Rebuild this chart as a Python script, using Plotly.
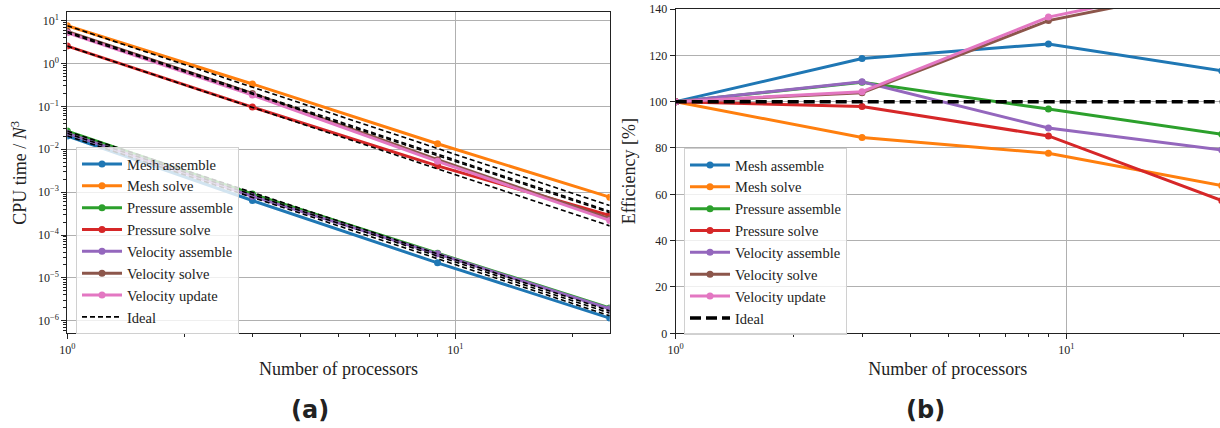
import plotly.graph_objects as go
import math

# ---------------- data ----------------
procs = [1, 3, 9, 25]
series_names = ["Mesh assemble", "Mesh solve", "Pressure assemble", "Pressure solve",
                "Velocity assemble", "Velocity solve", "Velocity update"]
colors = ["#1f77b4", "#ff7f0e", "#2ca02c", "#d62728", "#9467bd", "#8c564b", "#e377c2"]

# (a) CPU time / N^3
cpu_mesh_assemble = [0.0204, 6.37e-4, 2.24e-5, 1.152e-6]
cpu_mesh_solve = [7.6, 0.3331, 0.013417, 7.624e-4]
cpu_pressure_assemble = [0.0265, 9.054e-4, 3.755e-5, 1.974e-6]
cpu_pressure_solve = [2.55, 0.09647, 4.106e-3, 2.848e-4]
cpu_velocity_assemble = [0.0235, 8.014e-4, 3.638e-5, 1.901e-6]
cpu_velocity_solve = [5.6, 0.1998, 5.690e-3, 2.389e-4]
cpu_velocity_update = [5.2, 0.18465, 5.226e-3, 2.189e-4]

# ideal scaling lines for (a)
ideal_mesh_assemble = [0.0204, 7.556e-4, 2.798e-5, 1.306e-6]
ideal_mesh_solve = [7.6, 0.2815, 0.010425, 4.864e-4]
ideal_pressure_assemble = [0.0265, 9.815e-4, 3.635e-5, 1.696e-6]
ideal_pressure_solve = [2.55, 0.09444, 3.498e-3, 1.632e-4]
ideal_velocity_assemble = [0.0235, 8.704e-4, 3.224e-5, 1.504e-6]
ideal_velocity_solve = [5.6, 0.2074, 7.682e-3, 3.584e-4]
ideal_velocity_update = [5.2, 0.19259, 7.133e-3, 3.328e-4]

# (b) Efficiency [%]
eff_mesh_assemble = [100, 118.6, 124.9, 113.3]
eff_mesh_solve = [100, 84.5, 77.7, 63.8]
eff_pressure_assemble = [100, 108.4, 96.8, 85.9]
eff_pressure_solve = [100, 97.9, 85.2, 57.3]
eff_velocity_assemble = [100, 108.6, 88.6, 79.1]
eff_velocity_solve = [100, 103.8, 135.0, 150.0]
eff_velocity_update = [100, 104.3, 136.5, 152.0]
eff_ideal = [100, 100, 100, 100]

cpu_series = [cpu_mesh_assemble, cpu_mesh_solve, cpu_pressure_assemble, cpu_pressure_solve,
              cpu_velocity_assemble, cpu_velocity_solve, cpu_velocity_update]
ideal_series = [ideal_mesh_assemble, ideal_mesh_solve, ideal_pressure_assemble, ideal_pressure_solve,
                ideal_velocity_assemble, ideal_velocity_solve, ideal_velocity_update]
eff_series = [eff_mesh_assemble, eff_mesh_solve, eff_pressure_assemble, eff_pressure_solve,
              eff_velocity_assemble, eff_velocity_solve, eff_velocity_update]

left_yticks = [1e-6, 1e-5, 1e-4, 1e-3, 1e-2, 1e-1, 1e0, 1e1]
left_yticktext = ["10<sup>\u22126</sup>", "10<sup>\u22125</sup>", "10<sup>\u22124</sup>",
                  "10<sup>\u22123</sup>", "10<sup>\u22122</sup>", "10<sup>\u22121</sup>",
                  "10<sup>0</sup>", "10<sup>1</sup>"]
xticks = [1, 10]
xticktext = ["10<sup>0</sup>", "10<sup>1</sup>"]
right_yticks = [0, 20, 40, 60, 80, 100, 120, 140]

# ---------------- figure ----------------
W, H = 1220, 428
SERIF = "Liberation Serif"
fig = go.Figure()

for name, col, ys in zip(series_names, colors, cpu_series):
    fig.add_trace(go.Scatter(x=procs, y=ys, mode="lines+markers", name=name,
                             line=dict(color=col, width=3), marker=dict(color=col, size=7),
                             xaxis="x", yaxis="y", legend="legend"))
for i, ys in enumerate(ideal_series):
    fig.add_trace(go.Scatter(x=procs, y=ys, mode="lines", name="Ideal",
                             line=dict(color="black", width=1.6, dash="5px,3px"),
                             legendgroup="idealA", showlegend=(i == 0),
                             xaxis="x", yaxis="y", legend="legend"))

for name, col, ys in zip(series_names, colors, eff_series):
    fig.add_trace(go.Scatter(x=procs, y=ys, mode="lines+markers", name=name,
                             line=dict(color=col, width=3), marker=dict(color=col, size=7),
                             xaxis="x2", yaxis="y2", legend="legend2"))
fig.add_trace(go.Scatter(x=procs, y=eff_ideal, mode="lines", name="Ideal",
                         line=dict(color="black", width=3.5, dash="11px,5px"),
                         xaxis="x2", yaxis="y2", legend="legend2"))

ybot = (H - 333.3) / H
gridc = "#b0b0b0"
tickfont = dict(family=SERIF, size=12, color="#222")
titlefont = dict(family=SERIF, size=18, color="#222")

minor_x = dict(ticks="outside", ticklen=3, tickwidth=0.8, tickcolor="#222",
               tickvals=[2, 3, 4, 5, 6, 7, 8, 9, 20], showgrid=False)
minor_y = dict(ticks="outside", ticklen=3, tickwidth=0.8, tickcolor="#222",
               tickvals=[m * 10 ** e for e in range(-7, 2) for m in range(2, 10)], showgrid=False)

common_axis = dict(showline=True, linecolor="#222", linewidth=1, ticks="outside",
                   ticklen=5, tickwidth=0.9, tickcolor="#222", tickfont=tickfont,
                   showgrid=True, gridcolor=gridc, gridwidth=0.9, zeroline=False,
                   automargin=False)

legend_common = dict(xanchor="left", yanchor="top",
                     bgcolor="rgba(255,255,255,0.8)", bordercolor="#d0d0d0", borderwidth=1,
                     font=dict(family=SERIF, size=14.5, color="#222"), tracegroupgap=0,
                     itemwidth=40)

fig.update_layout(
    width=W, height=H,
    margin=dict(l=0, r=0, t=0, b=0, pad=0, autoexpand=False),
    paper_bgcolor="white", plot_bgcolor="white",
    font=dict(family=SERIF, color="#222"),
    xaxis=dict(type="log", domain=[67.3 / W, 609.7 / W], range=[0, math.log10(25)],
               tickvals=xticks, ticktext=xticktext, mirror=True, anchor="y",
               minor=minor_x,
               title=dict(text="Number of processors", font=titlefont, standoff=6),
               **common_axis),
    yaxis=dict(type="log", domain=[ybot, (H - 12.3) / H], range=[-6.293, 1.195],
               tickvals=left_yticks, ticktext=left_yticktext, mirror=True, anchor="x",
               minor=minor_y,
               title=dict(text="CPU time / <i>N</i><sup>3</sup>", font=titlefont, standoff=6),
               **common_axis),
    xaxis2=dict(type="log", domain=[675.7 / W, 1.0], range=[0, (1220 - 675.7) / 390.6],
                tickvals=xticks, ticktext=xticktext, mirror=True, anchor="y2",
                minor=minor_x,
                title=dict(text="Number of processors", font=titlefont, standoff=6),
                **common_axis),
    yaxis2=dict(domain=[ybot, (H - 9) / H], range=[0, 140], tickvals=right_yticks,
                anchor="x2", mirror=False,
                title=dict(text="Efficiency [%]", font=titlefont, standoff=8),
                **common_axis),
    legend=dict(x=76 / W, y=(H - 147) / H, **legend_common),
    legend2=dict(x=684 / W, y=(H - 148) / H, **legend_common),
    annotations=[
        dict(text="<b>(a)</b>", x=310 / W, y=(H - 410) / H, xref="paper", yref="paper",
             showarrow=False, font=dict(family="DejaVu Sans", size=24, color="#222"),
             xanchor="center", yanchor="middle"),
        dict(text="<b>(b)</b>", x=925 / W, y=(H - 410) / H, xref="paper", yref="paper",
             showarrow=False, font=dict(family="DejaVu Sans", size=24, color="#222"),
             xanchor="center", yanchor="middle"),
    ],
    showlegend=True,
)

fig.write_html("out.html", config={"displayModeBar": False},
               post_script="document.body.style.margin='0';document.body.style.overflow='hidden';")
